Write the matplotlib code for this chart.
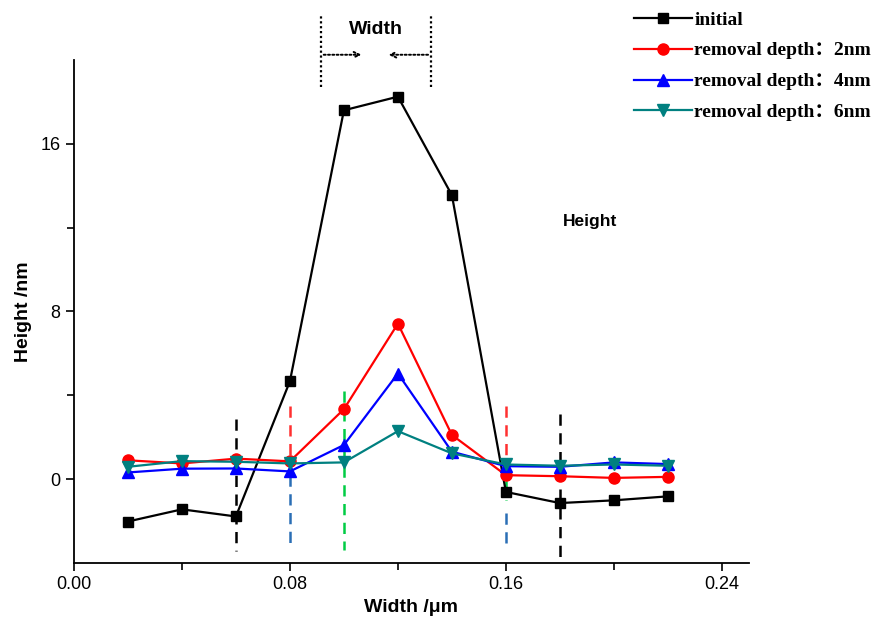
import numpy as np
import matplotlib
matplotlib.use('Agg')
import matplotlib.pyplot as plt

# width positions (um)
width = [0.02, 0.04, 0.06, 0.08, 0.10, 0.12, 0.14, 0.16, 0.18, 0.20, 0.22]

# heights (nm)
initial = [-2.02, -1.44, -1.78, 4.67, 17.6, 18.25, 13.55, -0.61, -1.14, -1.01, -0.82]
depth2 = [0.90, 0.75, 0.98, 0.85, 3.34, 7.42, 2.11, 0.19, 0.14, 0.06, 0.11]
depth4 = [0.32, 0.50, 0.51, 0.37, 1.63, 5.04, 1.31, 0.62, 0.59, 0.80, 0.72]
depth6 = [0.59, 0.86, 0.83, 0.75, 0.80, 2.29, 1.23, 0.70, 0.64, 0.70, 0.64]

labels = ['initial', 'removal depth\uff1a2nm', 'removal depth\uff1a4nm', 'removal depth\uff1a6nm']

# dashed guide lines: x, y top, y bottom, colour
guide_x = [0.06, 0.08, 0.08, 0.10, 0.16, 0.16, 0.16, 0.18]
guide_top = [2.85, 3.5, 0.2, 4.2, 3.5, 0.8, -1.6, 3.1]
guide_bot = [-3.45, 0.8, -3.4, -3.4, 0.8, -1.0, -3.4, -3.8]
guide_col = ['black', '#ff3030', '#2a6eb5', '#00cc44', '#ff3030', '#00cc44', '#2a6eb5', 'black']

plt.rcParams['font.family'] = ['Liberation Sans', 'DejaVu Sans']

fig = plt.figure(figsize=(8.8, 6.21), dpi=100)
ax = fig.add_axes([0.084, 0.0934, 0.767, 0.81])

for x, y0, y1, c in zip(guide_x, guide_top, guide_bot, guide_col):
    ax.plot([x, x], [y0, y1], color=c, lw=1.8, ls=(0, (4.5, 3)), zorder=1)

ax.plot(width, initial, color='black', marker='s', ms=7, lw=1.6, label=labels[0], zorder=3)
ax.plot(width, depth2, color='#ff0000', marker='o', ms=8, lw=1.6, label=labels[1], zorder=3)
ax.plot(width, depth4, color='#0000ff', marker='^', ms=8, lw=1.6, label=labels[2], zorder=3)
ax.plot(width, depth6, color='#008080', marker='v', ms=8, lw=1.6, label=labels[3], zorder=3)

ax.set_xlim(0, 0.25)
ax.set_ylim(-4, 20)
ax.set_xticks([0, 0.08, 0.16, 0.24])
ax.set_xticklabels(['0.00', '0.08', '0.16', '0.24'])
ax.set_xticks([0.04, 0.12, 0.20], minor=True)
ax.set_yticks([0, 8, 16])
ax.set_yticks([4, 12], minor=True)
ax.tick_params(which='both', direction='out', labelsize=13, width=1.2)
ax.tick_params(which='major', length=6)
ax.tick_params(which='minor', length=5)
for s in ['top', 'right']:
    ax.spines[s].set_visible(False)
for s in ['left', 'bottom']:
    ax.spines[s].set_linewidth(1.3)

ax.set_xlabel('Width /\u03bcm', fontsize=14, fontweight='bold', labelpad=4)
ax.set_ylabel('Height /nm', fontsize=14, fontweight='bold', labelpad=6)

# width annotation above the peak
wl, wr = 0.0915, 0.1322
for xx in [wl, wr]:
    ax.plot([xx, xx], [18.7, 22.2], color='black', lw=1.6, ls=(0, (1, 1.2)), clip_on=False)
ax.annotate('', xy=(0.1075, 20.25), xytext=(wl, 20.25), annotation_clip=False,
            arrowprops=dict(arrowstyle='->', ls=(0, (1, 1.2)), lw=1.4, color='black'))
ax.annotate('', xy=(0.1155, 20.25), xytext=(wr, 20.25), annotation_clip=False,
            arrowprops=dict(arrowstyle='->', ls=(0, (1, 1.2)), lw=1.4, color='black'))
ax.text(0.1118, 21.45, 'Width', ha='center', va='center', fontsize=14, fontweight='bold')
ax.text(0.191, 12.3, 'Height', ha='center', va='center', fontsize=12.5, fontweight='bold')

fig.legend(loc='upper left', bbox_to_anchor=(630 / 880, 0.9885), frameon=False,
           prop={'family': ['Liberation Serif', 'Noto Sans CJK SC'], 'weight': 'bold', 'size': 14},
           handlelength=3.0, handletextpad=0.1, labelspacing=0.68, borderpad=0.2, borderaxespad=0)

fig.savefig('out.png', dpi=100)
